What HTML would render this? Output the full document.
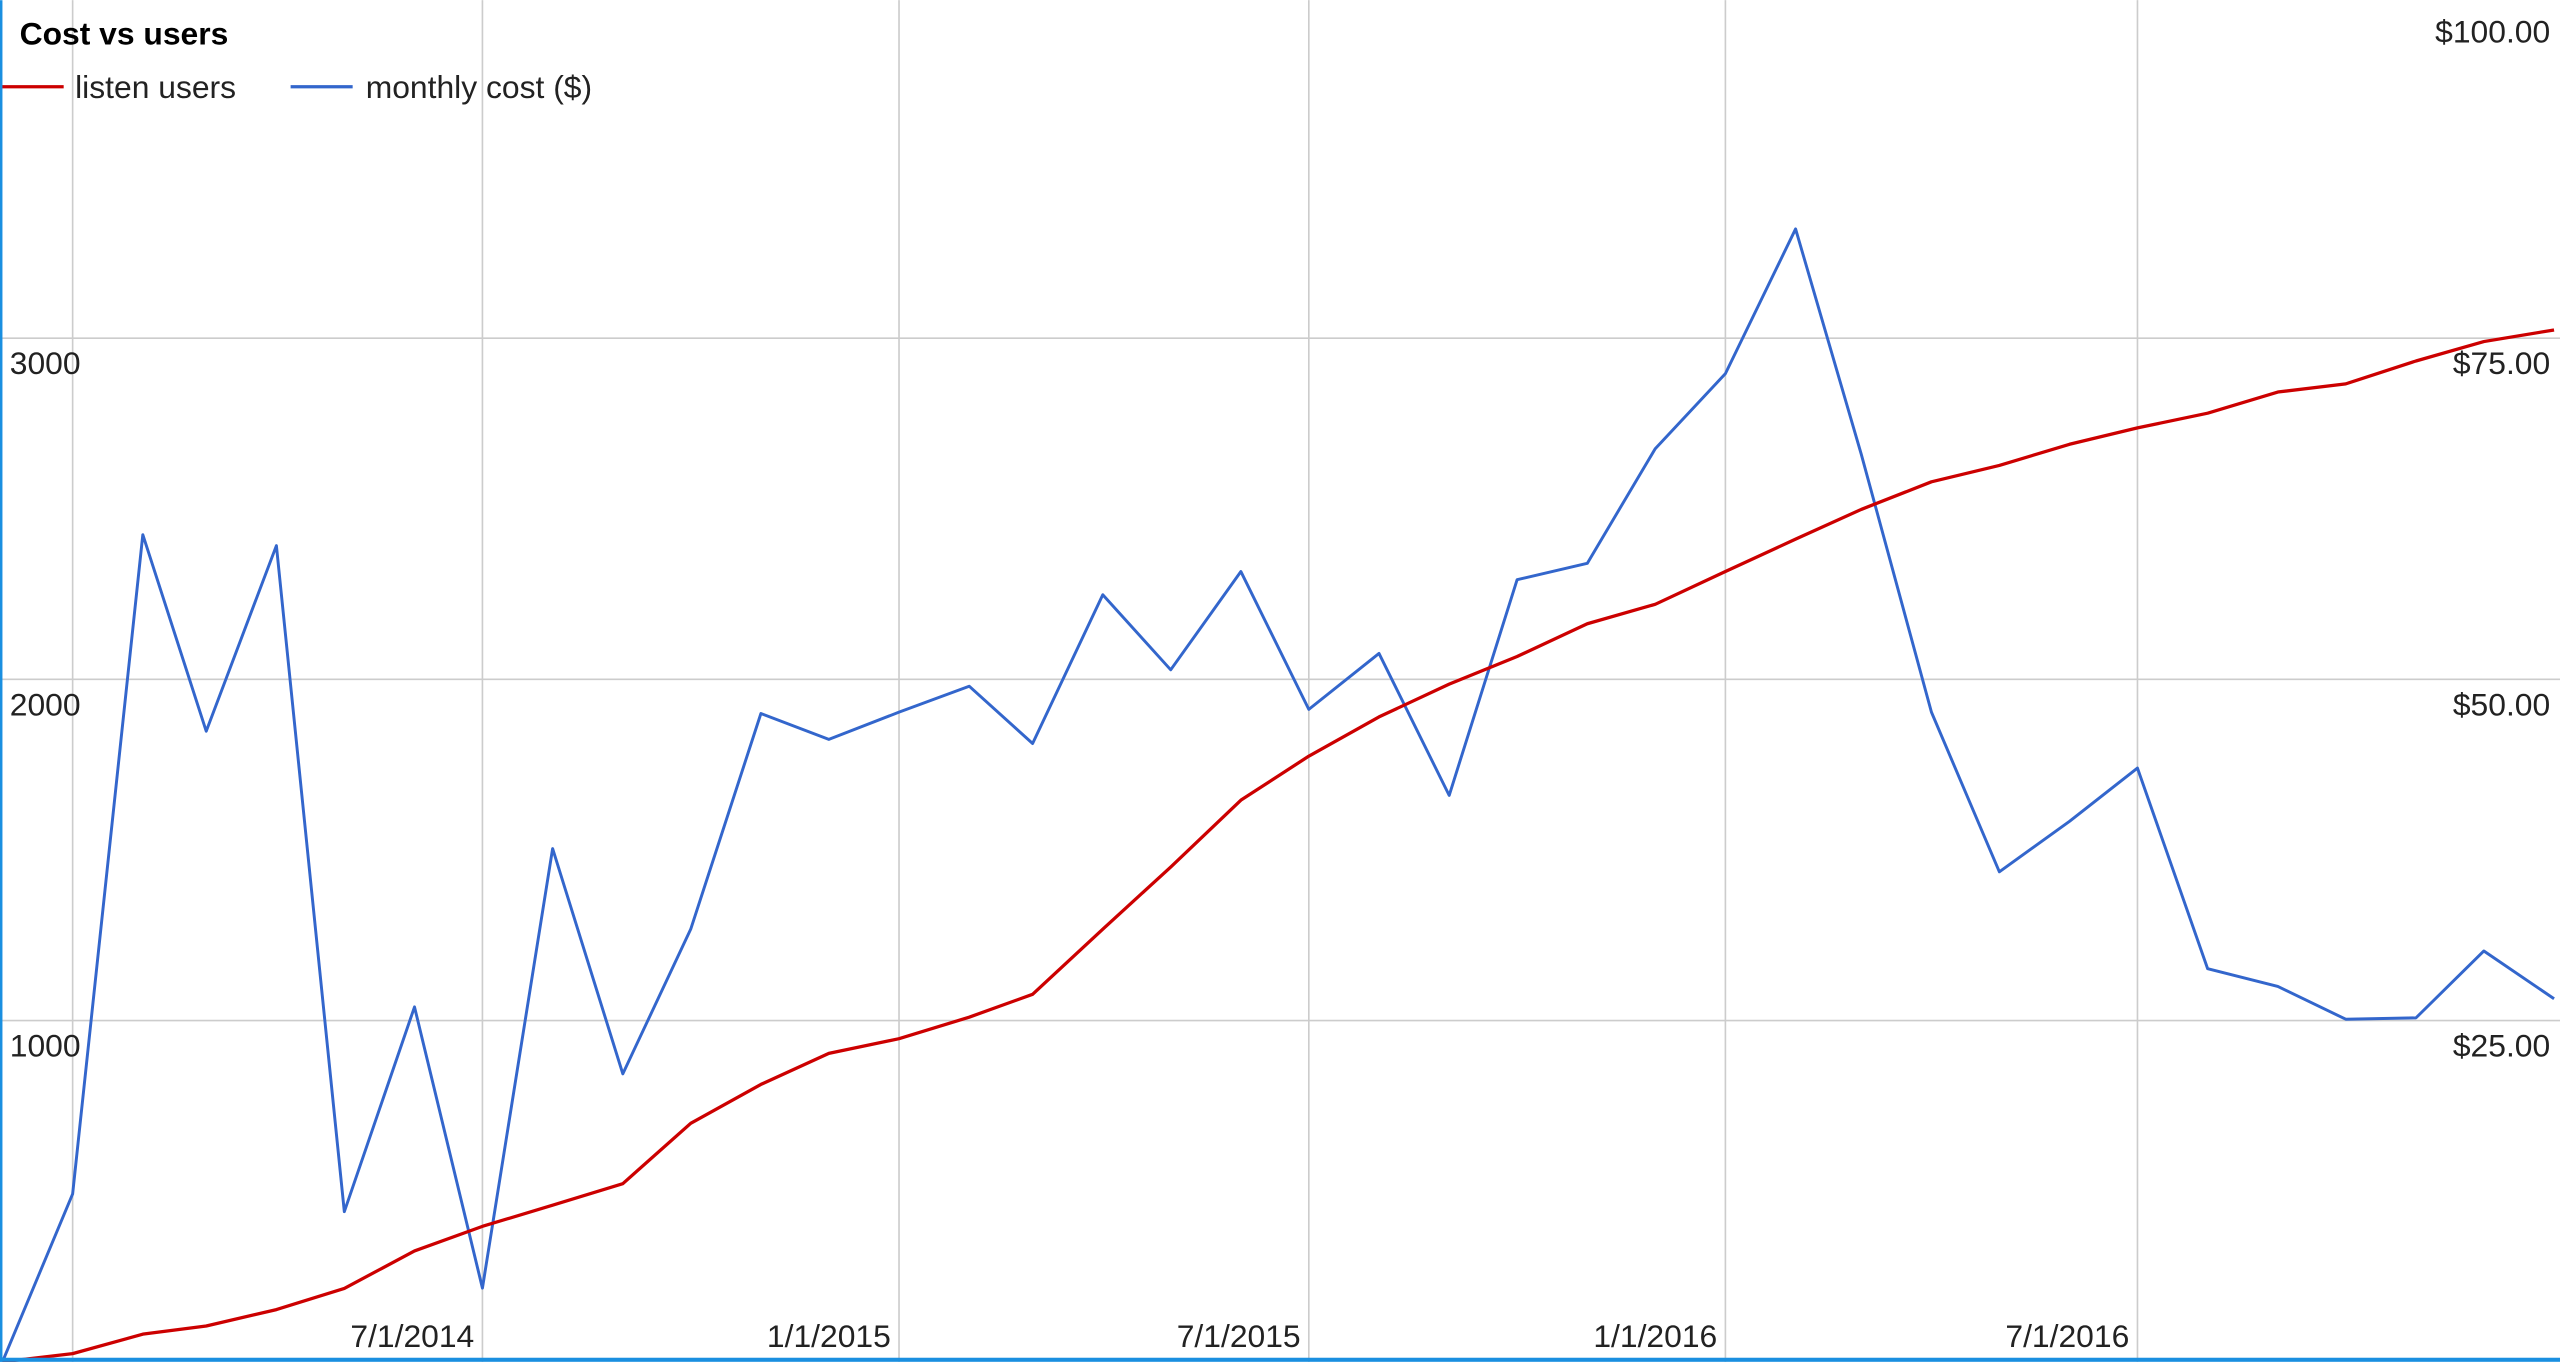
<!DOCTYPE html>
<html><head><meta charset="utf-8"><style>
html,body{margin:0;padding:0;background:#fff;}
svg{display:block;font-family:"Liberation Sans",Arial,sans-serif;}
</style></head><body>
<svg id="chart" width="2560" height="1362" viewBox="0 0 1568 834" xmlns="http://www.w3.org/2000/svg">
<g id="grid"></g>
<g id="labels"></g>
<g id="series"></g>
<text x="12" y="27" font-size="19.5" font-weight="bold" fill="#000">Cost vs users</text>
<g>
<line x1="1" y1="53" x2="39" y2="53" stroke="#cc0000" stroke-width="2"/>
<text x="46" y="60" font-size="19.5" fill="#222">listen users</text></g>
<g>
<line x1="178" y1="53" x2="216" y2="53" stroke="#3366cc" stroke-width="2"/>
<text x="224" y="60" font-size="19.5" fill="#222">monthly cost ($)</text></g>
<rect x="0" y="0" width="1.5" height="834" fill="#1a8fe0"/>
<rect x="0" y="831.5" width="1568" height="2.5" fill="#1a8fe0"/>
</svg>
<script>
const months = ["2013-12","2014-01","2014-02","2014-03","2014-04","2014-05","2014-06","2014-07","2014-08","2014-09","2014-10","2014-11","2014-12","2015-01","2015-02","2015-03","2015-04","2015-05","2015-06","2015-07","2015-08","2015-09","2015-10","2015-11","2015-12","2016-01","2016-02","2016-03","2016-04","2016-05","2016-06","2016-07","2016-08","2016-09","2016-10","2016-11","2016-12","2017-01"];
const users = [0,24,81,105,153,215,325,397,459,522,699,813,904,947,1010,1077,1268,1450,1646,1775,1890,1986,2067,2163,2220,2316,2411,2498,2579,2627,2689,2737,2780,2842,2866,2933,2990,3024];
const cost = [0,12.3,60.6,46.2,59.8,11.0,26.0,5.4,37.6,21.1,31.7,47.5,45.6,47.6,49.5,45.3,56.2,50.7,57.9,47.8,51.9,41.5,57.3,58.5,66.9,72.4,83.0,66.5,47.6,35.9,39.6,43.5,28.8,27.5,25.1,25.2,30.1,26.6];
const leftTicks = [1000,2000,3000];
const rightTicks = [25,50,75,100];
const dateTicks = ["2014-01","2014-07","2015-01","2015-07","2016-01","2016-07"];
const dateLabels = ["","7/1/2014","1/1/2015","7/1/2015","1/1/2016","7/1/2016"];

const NS="http://www.w3.org/2000/svg";
const t0=Date.UTC(2013,11,1), pxPerDay=251/181;
function xs(m){const [y,mo]=m.split("-").map(Number);return 1.5+(Date.UTC(y,mo-1,1)-t0)/864e5*pxPerDay;}
function yL(v){return 834-v/1000*209;}
function yR(v){return 834-v/25*209;}
function mk(tag,attrs,parent){const e=document.createElementNS(NS,tag);for(const k in attrs)e.setAttribute(k,attrs[k]);parent.appendChild(e);return e;}
const grid=document.getElementById("grid"),labels=document.getElementById("labels"),series=document.getElementById("series");
dateTicks.forEach((m,i)=>{const x=xs(m);
 const l=mk("line",{x1:x,x2:x,y1:0,y2:834,stroke:"#cccccc","stroke-width":1},grid);
 
 
 if(dateLabels[i]){const t=mk("text",{x:x-5,y:825,"font-size":19.5,fill:"#222","text-anchor":"end"},labels);t.textContent=dateLabels[i];
 
 }
});
leftTicks.forEach(v=>{const y=yL(v);
 const l=mk("line",{x1:0,x2:1568,y1:y,y2:y,stroke:"#cccccc","stroke-width":1},grid);
 
 
 const t=mk("text",{x:6,y:y+22,"font-size":19.5,fill:"#222"},labels);t.textContent=String(v);
 
 
});
rightTicks.forEach(v=>{const y=yR(v);
 const t=mk("text",{x:1562,y:Math.max(y+22,26),"font-size":19.5,fill:"#222","text-anchor":"end"},labels);t.textContent="$"+v.toFixed(2);
 
 
});
const pc=mk("polyline",{points:cost.map((v,i)=>xs(months[i])+","+yR(v)).join(" "),fill:"none",stroke:"#3366cc","stroke-width":1.8,"stroke-linejoin":"round"},series);


const pu=mk("polyline",{points:users.map((v,i)=>xs(months[i])+","+yL(v)).join(" "),fill:"none",stroke:"#cc0000","stroke-width":2,"stroke-linejoin":"round"},series);


</script>
</body></html>
